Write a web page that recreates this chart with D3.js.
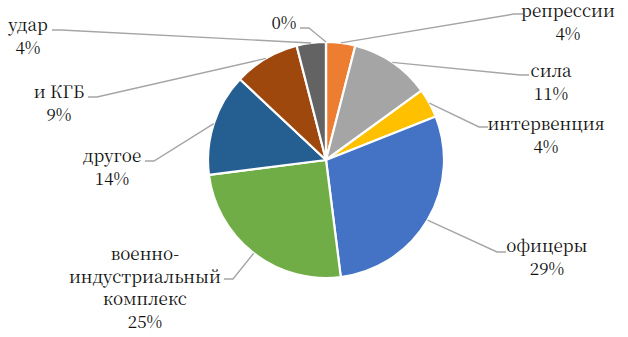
<!DOCTYPE html>
<html>
<head>
<meta charset="utf-8">
<script src="https://cdn.jsdelivr.net/npm/d3@7"></script>
<style>
  html, body { margin: 0; padding: 0; background: #fff; }
  svg { display: block; }
</style>
</head>
<body>
<svg id="chart" width="628" height="337"></svg>
<script>
// ---- data ----
const categories = ["репрессии", "сила", "интервенция", "офицеры", "военно-индустриальный комплекс", "другое", "и КГБ", "удар", ""];
const labelLines = [["репрессии"], ["сила"], ["интервенция"], ["офицеры"], ["военно-", "индустриальный", "комплекс"], ["другое"], ["и КГБ"], ["удар"], []];
const values = [4, 11, 4, 29, 25, 14, 9, 4, 0];
const percentLabels = ["4%", "11%", "4%", "29%", "25%", "14%", "9%", "4%", "0%"];

// ---- layout (label placement: center x, first baseline y, leader end x/y, side) ----
const labelLayout = [
  { cx: 568, by: 17,  ex: 523, ey: 14,  side: 1 },
  { cx: 551, by: 77,  ex: 529, ey: 75,  side: 1 },
  { cx: 546, by: 130, ex: 488, ey: 127, side: 1 },
  { cx: 547, by: 252, ex: 506, ey: 252, side: 1 },
  { cx: 145, by: 260, ex: 224, ey: 279, side: -1 },
  { cx: 112, by: 162, ex: 145, ey: 161, side: -1 },
  { cx: 59,  by: 98,  ex: 88,  ey: 97,  side: -1 },
  { cx: 28,  by: 31,  ex: 52,  ey: 30,  side: -1 },
  { cx: 284, by: 29,  ex: 300, ey: 28,  side: -1 }
];
const colors = ["#ED7D31", "#A5A5A5", "#FFC000", "#4472C4", "#70AD47", "#255E91", "#9E480E", "#636363", "#997300"];
const cx = 326, cy = 160, R = 118, lineH = 22.5;

const svg = d3.select("#chart");
const g = svg.append("g").attr("transform", `translate(${cx},${cy})`);

const pie = d3.pie().sort(null).value(d => d)(values);
const arc = d3.arc().innerRadius(0).outerRadius(R);

g.selectAll("path.slice")
  .data(pie)
  .join("path")
  .attr("class", "slice")
  .attr("d", arc)
  .attr("fill", (d, i) => colors[i])
  .attr("stroke", "#fff")
  .attr("stroke-width", 2.2)
  .attr("stroke-linejoin", "round");

// leader lines
pie.forEach((d, i) => {
  const L = labelLayout[i];
  const a = (d.startAngle + d.endAngle) / 2;
  const sx = cx + R * Math.sin(a), sy = cy - R * Math.cos(a);
  const kx = L.ex - L.side * 9;
  svg.append("path")
    .attr("d", d3.line()([[sx, sy], [kx, L.ey], [L.ex, L.ey]]))
    .attr("fill", "none")
    .attr("stroke", "#A5A5A5")
    .attr("stroke-width", 1.4);
});

// labels
pie.forEach((d, i) => {
  const L = labelLayout[i];
  const lines = labelLines[i].concat([percentLabels[i]]);
  lines.forEach((s, k) => {
    svg.append("text")
      .attr("text-anchor", "middle")
      .attr("x", L.cx)
      .attr("y", L.by + k * lineH)
      .style("font-family", '"Noto Serif CJK SC"')
      .style("font-size", "17px")
      .style("fill", "#111")
      .text(s);
  });
});
</script>
</body>
</html>
